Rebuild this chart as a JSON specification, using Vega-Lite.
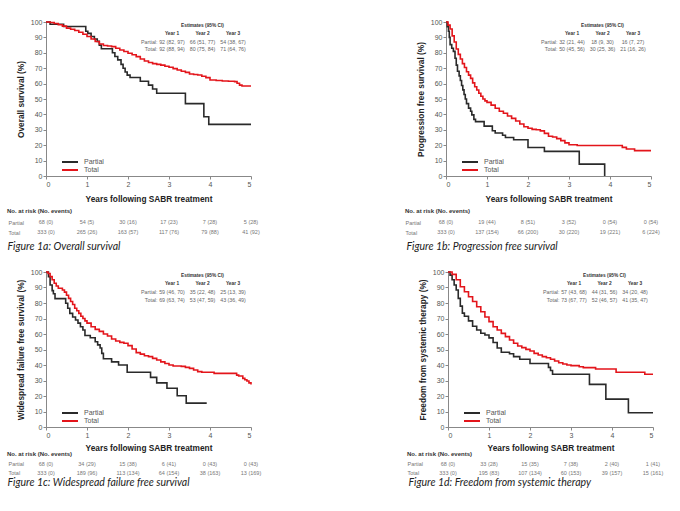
{
"$schema":"https://vega.github.io/schema/vega-lite/v6.json",
"background":"white",
"autosize":{"type":"pad"},
"padding":{"left":7,"top":18,"right":0,"bottom":0},
"datasets":{
"km":[
{"p":"a","g":"Partial","t":0,"s":100},{"p":"a","g":"Partial","t":0.1,"s":98.5},{"p":"a","g":"Partial","t":0.43,"s":97.1},{"p":"a","g":"Partial","t":0.97,"s":94},{"p":"a","g":"Partial","t":1.02,"s":92.6},{"p":"a","g":"Partial","t":1.1,"s":90.6},{"p":"a","g":"Partial","t":1.18,"s":89},{"p":"a","g":"Partial","t":1.25,"s":87.4},{"p":"a","g":"Partial","t":1.3,"s":85},{"p":"a","g":"Partial","t":1.35,"s":82.6},{"p":"a","g":"Partial","t":1.62,"s":80},{"p":"a","g":"Partial","t":1.68,"s":77.6},{"p":"a","g":"Partial","t":1.75,"s":75.4},{"p":"a","g":"Partial","t":1.83,"s":72.5},{"p":"a","g":"Partial","t":1.88,"s":70},{"p":"a","g":"Partial","t":1.93,"s":67.5},{"p":"a","g":"Partial","t":1.98,"s":65.5},{"p":"a","g":"Partial","t":2.05,"s":64},{"p":"a","g":"Partial","t":2.3,"s":61.5},{"p":"a","g":"Partial","t":2.5,"s":59},{"p":"a","g":"Partial","t":2.6,"s":56.5},{"p":"a","g":"Partial","t":2.7,"s":53.7},{"p":"a","g":"Partial","t":3.4,"s":47},{"p":"a","g":"Partial","t":3.85,"s":38.5},{"p":"a","g":"Partial","t":3.97,"s":33.5},{"p":"a","g":"Partial","t":5,"s":33.5},
{"p":"a","g":"Total","t":0,"s":100},{"p":"a","g":"Total","t":0.1,"s":99.7},{"p":"a","g":"Total","t":0.2,"s":99},{"p":"a","g":"Total","t":0.3,"s":98.2},{"p":"a","g":"Total","t":0.4,"s":97.3},{"p":"a","g":"Total","t":0.5,"s":96},{"p":"a","g":"Total","t":0.6,"s":95.3},{"p":"a","g":"Total","t":0.7,"s":94.5},{"p":"a","g":"Total","t":0.8,"s":93.3},{"p":"a","g":"Total","t":0.9,"s":92},{"p":"a","g":"Total","t":1.0,"s":90.6},{"p":"a","g":"Total","t":1.1,"s":89},{"p":"a","g":"Total","t":1.2,"s":87.3},{"p":"a","g":"Total","t":1.3,"s":85.7},{"p":"a","g":"Total","t":1.4,"s":84.7},{"p":"a","g":"Total","t":1.5,"s":84.4},{"p":"a","g":"Total","t":1.6,"s":84},{"p":"a","g":"Total","t":1.7,"s":83},{"p":"a","g":"Total","t":1.8,"s":81.8},{"p":"a","g":"Total","t":1.9,"s":80.8},{"p":"a","g":"Total","t":2.0,"s":79.7},{"p":"a","g":"Total","t":2.1,"s":78.7},{"p":"a","g":"Total","t":2.2,"s":77.5},{"p":"a","g":"Total","t":2.3,"s":76},{"p":"a","g":"Total","t":2.4,"s":74.7},{"p":"a","g":"Total","t":2.5,"s":73.7},{"p":"a","g":"Total","t":2.6,"s":73},{"p":"a","g":"Total","t":2.7,"s":72.5},{"p":"a","g":"Total","t":2.8,"s":72},{"p":"a","g":"Total","t":2.9,"s":71.3},{"p":"a","g":"Total","t":3.0,"s":70.6},{"p":"a","g":"Total","t":3.1,"s":69.7},{"p":"a","g":"Total","t":3.2,"s":68.8},{"p":"a","g":"Total","t":3.3,"s":68},{"p":"a","g":"Total","t":3.4,"s":67.3},{"p":"a","g":"Total","t":3.5,"s":66.2},{"p":"a","g":"Total","t":3.6,"s":65.9},{"p":"a","g":"Total","t":3.7,"s":65.6},{"p":"a","g":"Total","t":3.8,"s":64.8},{"p":"a","g":"Total","t":3.9,"s":63.9},{"p":"a","g":"Total","t":4.0,"s":62.3},{"p":"a","g":"Total","t":4.15,"s":62},{"p":"a","g":"Total","t":4.3,"s":61.7},{"p":"a","g":"Total","t":4.45,"s":61.5},{"p":"a","g":"Total","t":4.6,"s":61.3},{"p":"a","g":"Total","t":4.66,"s":60.2},{"p":"a","g":"Total","t":4.72,"s":59},{"p":"a","g":"Total","t":4.78,"s":58.4},{"p":"a","g":"Total","t":5,"s":58.4},
{"p":"b","g":"Partial","t":0,"s":100},{"p":"b","g":"Partial","t":0.03,"s":97},{"p":"b","g":"Partial","t":0.06,"s":94},{"p":"b","g":"Partial","t":0.08,"s":90},{"p":"b","g":"Partial","t":0.1,"s":85.3},{"p":"b","g":"Partial","t":0.14,"s":83},{"p":"b","g":"Partial","t":0.18,"s":80.9},{"p":"b","g":"Partial","t":0.22,"s":76.5},{"p":"b","g":"Partial","t":0.25,"s":72},{"p":"b","g":"Partial","t":0.28,"s":68},{"p":"b","g":"Partial","t":0.32,"s":65},{"p":"b","g":"Partial","t":0.35,"s":62},{"p":"b","g":"Partial","t":0.38,"s":58.8},{"p":"b","g":"Partial","t":0.41,"s":55.9},{"p":"b","g":"Partial","t":0.44,"s":52.9},{"p":"b","g":"Partial","t":0.47,"s":50},{"p":"b","g":"Partial","t":0.5,"s":47},{"p":"b","g":"Partial","t":0.55,"s":44.1},{"p":"b","g":"Partial","t":0.6,"s":42},{"p":"b","g":"Partial","t":0.63,"s":39.7},{"p":"b","g":"Partial","t":0.68,"s":36.8},{"p":"b","g":"Partial","t":0.72,"s":35.3},{"p":"b","g":"Partial","t":0.93,"s":32.4},{"p":"b","g":"Partial","t":1.13,"s":29.4},{"p":"b","g":"Partial","t":1.2,"s":27.9},{"p":"b","g":"Partial","t":1.38,"s":26.5},{"p":"b","g":"Partial","t":1.45,"s":25},{"p":"b","g":"Partial","t":1.65,"s":23.5},{"p":"b","g":"Partial","t":2.0,"s":18.5},{"p":"b","g":"Partial","t":2.4,"s":16},{"p":"b","g":"Partial","t":3.25,"s":7.7},{"p":"b","g":"Partial","t":3.87,"s":0},
{"p":"b","g":"Total","t":0,"s":100},{"p":"b","g":"Total","t":0.05,"s":98},{"p":"b","g":"Total","t":0.1,"s":95.5},{"p":"b","g":"Total","t":0.15,"s":91},{"p":"b","g":"Total","t":0.2,"s":87},{"p":"b","g":"Total","t":0.25,"s":82.5},{"p":"b","g":"Total","t":0.3,"s":79},{"p":"b","g":"Total","t":0.35,"s":76},{"p":"b","g":"Total","t":0.4,"s":73},{"p":"b","g":"Total","t":0.45,"s":70.5},{"p":"b","g":"Total","t":0.5,"s":67.7},{"p":"b","g":"Total","t":0.55,"s":65.5},{"p":"b","g":"Total","t":0.6,"s":63.4},{"p":"b","g":"Total","t":0.65,"s":60.5},{"p":"b","g":"Total","t":0.7,"s":58},{"p":"b","g":"Total","t":0.75,"s":55.8},{"p":"b","g":"Total","t":0.8,"s":53.7},{"p":"b","g":"Total","t":0.85,"s":51.8},{"p":"b","g":"Total","t":0.9,"s":50},{"p":"b","g":"Total","t":0.95,"s":48.8},{"p":"b","g":"Total","t":1.0,"s":47.8},{"p":"b","g":"Total","t":1.1,"s":46},{"p":"b","g":"Total","t":1.2,"s":44},{"p":"b","g":"Total","t":1.3,"s":42},{"p":"b","g":"Total","t":1.4,"s":40.7},{"p":"b","g":"Total","t":1.5,"s":39},{"p":"b","g":"Total","t":1.6,"s":37.4},{"p":"b","g":"Total","t":1.7,"s":35.7},{"p":"b","g":"Total","t":1.8,"s":33.8},{"p":"b","g":"Total","t":1.9,"s":32},{"p":"b","g":"Total","t":2.0,"s":31},{"p":"b","g":"Total","t":2.1,"s":30.3},{"p":"b","g":"Total","t":2.2,"s":30},{"p":"b","g":"Total","t":2.3,"s":29.3},{"p":"b","g":"Total","t":2.4,"s":27.7},{"p":"b","g":"Total","t":2.5,"s":25.8},{"p":"b","g":"Total","t":2.6,"s":25.3},{"p":"b","g":"Total","t":2.7,"s":24.3},{"p":"b","g":"Total","t":2.8,"s":23},{"p":"b","g":"Total","t":2.9,"s":21.5},{"p":"b","g":"Total","t":3.0,"s":20.3},{"p":"b","g":"Total","t":3.2,"s":19.8},{"p":"b","g":"Total","t":4.2,"s":19.8},{"p":"b","g":"Total","t":4.3,"s":18.6},{"p":"b","g":"Total","t":4.4,"s":17.5},{"p":"b","g":"Total","t":4.6,"s":16.5},{"p":"b","g":"Total","t":5,"s":16.5},
{"p":"c","g":"Partial","t":0,"s":100},{"p":"c","g":"Partial","t":0.06,"s":97},{"p":"c","g":"Partial","t":0.1,"s":91.6},{"p":"c","g":"Partial","t":0.15,"s":88},{"p":"c","g":"Partial","t":0.18,"s":86},{"p":"c","g":"Partial","t":0.22,"s":82.8},{"p":"c","g":"Partial","t":0.48,"s":79.8},{"p":"c","g":"Partial","t":0.53,"s":76.6},{"p":"c","g":"Partial","t":0.58,"s":73.3},{"p":"c","g":"Partial","t":0.65,"s":71},{"p":"c","g":"Partial","t":0.72,"s":69},{"p":"c","g":"Partial","t":0.78,"s":67},{"p":"c","g":"Partial","t":0.84,"s":64.7},{"p":"c","g":"Partial","t":0.9,"s":62.6},{"p":"c","g":"Partial","t":0.95,"s":59},{"p":"c","g":"Partial","t":1.08,"s":57.6},{"p":"c","g":"Partial","t":1.2,"s":55},{"p":"c","g":"Partial","t":1.26,"s":53},{"p":"c","g":"Partial","t":1.32,"s":51},{"p":"c","g":"Partial","t":1.36,"s":47.5},{"p":"c","g":"Partial","t":1.4,"s":44},{"p":"c","g":"Partial","t":1.6,"s":42},{"p":"c","g":"Partial","t":1.77,"s":40},{"p":"c","g":"Partial","t":1.98,"s":35.3},{"p":"c","g":"Partial","t":2.55,"s":32},{"p":"c","g":"Partial","t":2.7,"s":28.5},{"p":"c","g":"Partial","t":2.95,"s":25},{"p":"c","g":"Partial","t":3.2,"s":20.2},{"p":"c","g":"Partial","t":3.42,"s":15.4},{"p":"c","g":"Partial","t":3.92,"s":15.4},
{"p":"c","g":"Total","t":0,"s":100},{"p":"c","g":"Total","t":0.05,"s":99},{"p":"c","g":"Total","t":0.1,"s":97},{"p":"c","g":"Total","t":0.15,"s":95},{"p":"c","g":"Total","t":0.2,"s":92.7},{"p":"c","g":"Total","t":0.25,"s":91},{"p":"c","g":"Total","t":0.3,"s":89.5},{"p":"c","g":"Total","t":0.4,"s":88.4},{"p":"c","g":"Total","t":0.45,"s":87},{"p":"c","g":"Total","t":0.5,"s":85},{"p":"c","g":"Total","t":0.55,"s":83},{"p":"c","g":"Total","t":0.6,"s":81},{"p":"c","g":"Total","t":0.65,"s":79},{"p":"c","g":"Total","t":0.7,"s":76.6},{"p":"c","g":"Total","t":0.75,"s":75},{"p":"c","g":"Total","t":0.8,"s":73.3},{"p":"c","g":"Total","t":0.85,"s":71.5},{"p":"c","g":"Total","t":0.9,"s":70},{"p":"c","g":"Total","t":0.95,"s":68.5},{"p":"c","g":"Total","t":1.0,"s":67},{"p":"c","g":"Total","t":1.1,"s":64.7},{"p":"c","g":"Total","t":1.2,"s":63},{"p":"c","g":"Total","t":1.3,"s":61.7},{"p":"c","g":"Total","t":1.4,"s":60},{"p":"c","g":"Total","t":1.5,"s":58.7},{"p":"c","g":"Total","t":1.6,"s":56.8},{"p":"c","g":"Total","t":1.7,"s":55.5},{"p":"c","g":"Total","t":1.8,"s":54.6},{"p":"c","g":"Total","t":1.9,"s":54},{"p":"c","g":"Total","t":2.0,"s":52.5},{"p":"c","g":"Total","t":2.1,"s":50.3},{"p":"c","g":"Total","t":2.2,"s":48},{"p":"c","g":"Total","t":2.3,"s":47},{"p":"c","g":"Total","t":2.4,"s":46},{"p":"c","g":"Total","t":2.5,"s":45.4},{"p":"c","g":"Total","t":2.6,"s":44.3},{"p":"c","g":"Total","t":2.7,"s":43.2},{"p":"c","g":"Total","t":2.8,"s":42},{"p":"c","g":"Total","t":2.9,"s":41},{"p":"c","g":"Total","t":3.0,"s":40},{"p":"c","g":"Total","t":3.1,"s":39.4},{"p":"c","g":"Total","t":3.3,"s":39.1},{"p":"c","g":"Total","t":3.4,"s":38.5},{"p":"c","g":"Total","t":3.5,"s":37.8},{"p":"c","g":"Total","t":3.6,"s":36.8},{"p":"c","g":"Total","t":3.7,"s":35.7},{"p":"c","g":"Total","t":3.8,"s":35.3},{"p":"c","g":"Total","t":4.1,"s":34.6},{"p":"c","g":"Total","t":4.65,"s":33.5},{"p":"c","g":"Total","t":4.7,"s":32.9},{"p":"c","g":"Total","t":4.8,"s":31.4},{"p":"c","g":"Total","t":4.85,"s":30.5},{"p":"c","g":"Total","t":4.9,"s":29.7},{"p":"c","g":"Total","t":4.95,"s":28.5},{"p":"c","g":"Total","t":5,"s":27.5},
{"p":"d","g":"Partial","t":0,"s":100},{"p":"d","g":"Partial","t":0.05,"s":98},{"p":"d","g":"Partial","t":0.1,"s":95},{"p":"d","g":"Partial","t":0.15,"s":91.6},{"p":"d","g":"Partial","t":0.2,"s":88.4},{"p":"d","g":"Partial","t":0.25,"s":83},{"p":"d","g":"Partial","t":0.3,"s":78},{"p":"d","g":"Partial","t":0.35,"s":73.5},{"p":"d","g":"Partial","t":0.4,"s":71.5},{"p":"d","g":"Partial","t":0.5,"s":68.5},{"p":"d","g":"Partial","t":0.6,"s":65},{"p":"d","g":"Partial","t":0.7,"s":62.6},{"p":"d","g":"Partial","t":0.8,"s":60.5},{"p":"d","g":"Partial","t":0.9,"s":59.4},{"p":"d","g":"Partial","t":1.0,"s":57.5},{"p":"d","g":"Partial","t":1.1,"s":54.5},{"p":"d","g":"Partial","t":1.2,"s":51},{"p":"d","g":"Partial","t":1.3,"s":48.2},{"p":"d","g":"Partial","t":1.5,"s":47.3},{"p":"d","g":"Partial","t":1.6,"s":45.4},{"p":"d","g":"Partial","t":1.75,"s":43.7},{"p":"d","g":"Partial","t":2.0,"s":41},{"p":"d","g":"Partial","t":2.45,"s":38.5},{"p":"d","g":"Partial","t":2.5,"s":36.5},{"p":"d","g":"Partial","t":2.55,"s":34},{"p":"d","g":"Partial","t":3.45,"s":27.5},{"p":"d","g":"Partial","t":3.85,"s":18},{"p":"d","g":"Partial","t":4.4,"s":9.2},{"p":"d","g":"Partial","t":5,"s":9.2},
{"p":"d","g":"Total","t":0,"s":100},{"p":"d","g":"Total","t":0.1,"s":98.5},{"p":"d","g":"Total","t":0.2,"s":95},{"p":"d","g":"Total","t":0.3,"s":90.5},{"p":"d","g":"Total","t":0.4,"s":87.3},{"p":"d","g":"Total","t":0.5,"s":84},{"p":"d","g":"Total","t":0.6,"s":81},{"p":"d","g":"Total","t":0.7,"s":77.6},{"p":"d","g":"Total","t":0.8,"s":74.4},{"p":"d","g":"Total","t":0.9,"s":71},{"p":"d","g":"Total","t":1.0,"s":68},{"p":"d","g":"Total","t":1.1,"s":64.7},{"p":"d","g":"Total","t":1.2,"s":62.6},{"p":"d","g":"Total","t":1.3,"s":60.4},{"p":"d","g":"Total","t":1.4,"s":58.3},{"p":"d","g":"Total","t":1.5,"s":56.1},{"p":"d","g":"Total","t":1.6,"s":54},{"p":"d","g":"Total","t":1.7,"s":52.3},{"p":"d","g":"Total","t":1.8,"s":51.2},{"p":"d","g":"Total","t":1.9,"s":50.1},{"p":"d","g":"Total","t":2.0,"s":49},{"p":"d","g":"Total","t":2.1,"s":47.5},{"p":"d","g":"Total","t":2.2,"s":46.5},{"p":"d","g":"Total","t":2.3,"s":45.4},{"p":"d","g":"Total","t":2.4,"s":44.7},{"p":"d","g":"Total","t":2.5,"s":43.7},{"p":"d","g":"Total","t":2.6,"s":42.6},{"p":"d","g":"Total","t":2.7,"s":41.5},{"p":"d","g":"Total","t":2.8,"s":40.6},{"p":"d","g":"Total","t":2.9,"s":40},{"p":"d","g":"Total","t":3.0,"s":39.6},{"p":"d","g":"Total","t":3.2,"s":38.9},{"p":"d","g":"Total","t":3.3,"s":38.3},{"p":"d","g":"Total","t":3.6,"s":37.4},{"p":"d","g":"Total","t":4.1,"s":35.3},{"p":"d","g":"Total","t":4.8,"s":34},{"p":"d","g":"Total","t":5,"s":34}
],
"est":[
{"p":"all","k":"title","ri":0,"ci":2,"v":"Estimates (95% CI)"},
{"p":"all","k":"head","ri":1,"ci":1,"v":"Year 1"},{"p":"all","k":"head","ri":1,"ci":2,"v":"Year 2"},{"p":"all","k":"head","ri":1,"ci":3,"v":"Year 3"},
{"p":"all","k":"lab","ri":2,"ci":1,"v":"Partial:"},{"p":"all","k":"lab","ri":3,"ci":1,"v":"Total:"},
{"p":"a","k":"val","ri":2,"ci":1,"v":"92 (82, 97)"},{"p":"a","k":"val","ri":2,"ci":2,"v":"66 (51, 77)"},{"p":"a","k":"val","ri":2,"ci":3,"v":"54 (38, 67)"},
{"p":"a","k":"val","ri":3,"ci":1,"v":"92 (88, 94)"},{"p":"a","k":"val","ri":3,"ci":2,"v":"80 (75, 84)"},{"p":"a","k":"val","ri":3,"ci":3,"v":"71 (64, 76)"},
{"p":"b","k":"val","ri":2,"ci":1,"v":"32 (21, 44)"},{"p":"b","k":"val","ri":2,"ci":2,"v":"18 (9, 30)"},{"p":"b","k":"val","ri":2,"ci":3,"v":"16 (7, 27)"},
{"p":"b","k":"val","ri":3,"ci":1,"v":"50 (45, 56)"},{"p":"b","k":"val","ri":3,"ci":2,"v":"30 (25, 36)"},{"p":"b","k":"val","ri":3,"ci":3,"v":"21 (16, 26)"},
{"p":"c","k":"val","ri":2,"ci":1,"v":"59 (46, 70)"},{"p":"c","k":"val","ri":2,"ci":2,"v":"35 (22, 48)"},{"p":"c","k":"val","ri":2,"ci":3,"v":"25 (13, 39)"},
{"p":"c","k":"val","ri":3,"ci":1,"v":"69 (63, 74)"},{"p":"c","k":"val","ri":3,"ci":2,"v":"53 (47, 59)"},{"p":"c","k":"val","ri":3,"ci":3,"v":"43 (36, 49)"},
{"p":"d","k":"val","ri":2,"ci":1,"v":"57 (43, 68)"},{"p":"d","k":"val","ri":2,"ci":2,"v":"44 (31, 56)"},{"p":"d","k":"val","ri":2,"ci":3,"v":"34 (20, 48)"},
{"p":"d","k":"val","ri":3,"ci":1,"v":"73 (67, 77)"},{"p":"d","k":"val","ri":3,"ci":2,"v":"52 (46, 57)"},{"p":"d","k":"val","ri":3,"ci":3,"v":"41 (35, 47)"}
],
"risk":[
{"p":"a","g":"Partial","t":0,"v":"68 (0)"},{"p":"a","g":"Partial","t":1,"v":"54 (5)"},{"p":"a","g":"Partial","t":2,"v":"30 (16)"},{"p":"a","g":"Partial","t":3,"v":"17 (23)"},{"p":"a","g":"Partial","t":4,"v":"7 (28)"},{"p":"a","g":"Partial","t":5,"v":"5 (28)"},
{"p":"a","g":"Total","t":0,"v":"333 (0)"},{"p":"a","g":"Total","t":1,"v":"265 (26)"},{"p":"a","g":"Total","t":2,"v":"163 (57)"},{"p":"a","g":"Total","t":3,"v":"117 (76)"},{"p":"a","g":"Total","t":4,"v":"79 (88)"},{"p":"a","g":"Total","t":5,"v":"41 (92)"},
{"p":"b","g":"Partial","t":0,"v":"68 (0)"},{"p":"b","g":"Partial","t":1,"v":"19 (44)"},{"p":"b","g":"Partial","t":2,"v":"8 (51)"},{"p":"b","g":"Partial","t":3,"v":"3 (52)"},{"p":"b","g":"Partial","t":4,"v":"0 (54)"},{"p":"b","g":"Partial","t":5,"v":"0 (54)"},
{"p":"b","g":"Total","t":0,"v":"333 (0)"},{"p":"b","g":"Total","t":1,"v":"137 (154)"},{"p":"b","g":"Total","t":2,"v":"66 (200)"},{"p":"b","g":"Total","t":3,"v":"30 (220)"},{"p":"b","g":"Total","t":4,"v":"19 (221)"},{"p":"b","g":"Total","t":5,"v":"6 (224)"},
{"p":"c","g":"Partial","t":0,"v":"68 (0)"},{"p":"c","g":"Partial","t":1,"v":"34 (29)"},{"p":"c","g":"Partial","t":2,"v":"15 (38)"},{"p":"c","g":"Partial","t":3,"v":"6 (41)"},{"p":"c","g":"Partial","t":4,"v":"0 (43)"},{"p":"c","g":"Partial","t":5,"v":"0 (43)"},
{"p":"c","g":"Total","t":0,"v":"333 (0)"},{"p":"c","g":"Total","t":1,"v":"189 (96)"},{"p":"c","g":"Total","t":2,"v":"113 (134)"},{"p":"c","g":"Total","t":3,"v":"64 (154)"},{"p":"c","g":"Total","t":4,"v":"38 (163)"},{"p":"c","g":"Total","t":5,"v":"13 (169)"},
{"p":"d","g":"Partial","t":0,"v":"68 (0)"},{"p":"d","g":"Partial","t":1,"v":"33 (28)"},{"p":"d","g":"Partial","t":2,"v":"15 (35)"},{"p":"d","g":"Partial","t":3,"v":"7 (38)"},{"p":"d","g":"Partial","t":4,"v":"2 (40)"},{"p":"d","g":"Partial","t":5,"v":"1 (41)"},
{"p":"d","g":"Total","t":0,"v":"333 (0)"},{"p":"d","g":"Total","t":1,"v":"195 (83)"},{"p":"d","g":"Total","t":2,"v":"107 (134)"},{"p":"d","g":"Total","t":3,"v":"60 (153)"},{"p":"d","g":"Total","t":4,"v":"39 (157)"},{"p":"d","g":"Total","t":5,"v":"15 (161)"}
]
},
"spacing":16,
"resolve":{"scale":{"color":"independent"},"legend":{"color":"independent"}},
"vconcat":[
{"hconcat":[
{"vconcat":[
{"width":205,"height":154,
"layer":[
{"data":{"name":"km"},"transform":[{"filter":"datum.p=='a'"}],"mark":{"type":"line","interpolate":"step-after","strokeWidth":1.6},
"encoding":{"x":{"field":"t","type":"quantitative","scale":{"domain":[0,5]},"axis":{"values":[0,1,2,3,4,5],"title":"Years following SABR treatment","titlePadding":7}},
"y":{"field":"s","type":"quantitative","scale":{"domain":[0,100]},"axis":{"values":[0,10,20,30,40,50,60,70,80,90,100],"title":"Overall survival (%)","titlePadding":5}},
"color":{"field":"g","type":"nominal","scale":{"domain":["Partial","Total"],"range":["#2a2a2a","#e3151b"]},"legend":{"orient":"none","legendX":15,"legendY":136,"title":null}}}},
{"data":{"name":"est"},"transform":[{"filter":"datum.k=='title' || datum.k=='head'"}],"mark":{"type":"text","fontSize":4.8,"fontWeight":"bold","color":"#333"},
"encoding":{"x":{"field":"ci","type":"quantitative","scale":{"domain":[-3.13,3.59],"nice":false,"zero":false},"axis":null},"y":{"field":"ri","type":"quantitative","scale":{"domain":[-0.51,19.2],"reverse":true,"nice":false,"zero":false},"axis":null},"text":{"field":"v"}}},
{"data":{"name":"est"},"transform":[{"filter":"datum.k=='lab'"}],"mark":{"type":"text","fontSize":5.3,"color":"#666","align":"right","dx":-14.5},
"encoding":{"x":{"field":"ci","type":"quantitative","scale":{"domain":[-3.13,3.59],"nice":false,"zero":false},"axis":null},"y":{"field":"ri","type":"quantitative","scale":{"domain":[-0.51,19.2],"reverse":true,"nice":false,"zero":false},"axis":null},"text":{"field":"v"}}},
{"data":{"name":"est"},"transform":[{"filter":"datum.k=='val' && datum.p=='a'"}],"mark":{"type":"text","fontSize":5.3,"color":"#666"},
"encoding":{"x":{"field":"ci","type":"quantitative","scale":{"domain":[-3.13,3.59],"nice":false,"zero":false},"axis":null},"y":{"field":"ri","type":"quantitative","scale":{"domain":[-0.51,19.2],"reverse":true,"nice":false,"zero":false},"axis":null},"text":{"field":"v"}}}
],
"resolve":{"scale":{"x":"independent","y":"independent"}}},
{"width":205,"height":20,"data":{"name":"risk"},"transform":[{"filter":"datum.p=='a'"}],
"title":{"text":"No. at risk (No. events)","anchor":"start","frame":"bounds","fontSize":6,"fontWeight":"bold","font":"Liberation Sans","color":"#333","offset":3},
"mark":{"type":"text","fontSize":5.5,"color":"#777","font":"Liberation Sans"},
"encoding":{"x":{"field":"t","type":"quantitative","scale":{"domain":[0,5]},"axis":{"domain":false,"ticks":false,"labels":false,"title":"Figure 1a: Overall survival","titleAnchor":"start","titleAlign":"left","titleX":-39,"titlePadding":4,"titleFont":"Lato","titleFontStyle":"italic","titleFontWeight":"normal","titleFontSize":10.5,"titleColor":"#222"}},
"y":{"field":"g","type":"nominal","scale":{"type":"point","domain":["Partial","Total"],"padding":0.5},"axis":{"domain":false,"ticks":false,"title":null,"labelAlign":"left","labelPadding":38,"labelFontSize":5.5,"labelColor":"#777"}},
"text":{"field":"v"}}}
],"spacing":5,"resolve":{"scale":{"color":"independent"},"legend":{"color":"independent"}}},
{"vconcat":[
{"width":205,"height":154,
"layer":[
{"data":{"name":"km"},"transform":[{"filter":"datum.p=='b'"}],"mark":{"type":"line","interpolate":"step-after","strokeWidth":1.6},
"encoding":{"x":{"field":"t","type":"quantitative","scale":{"domain":[0,5]},"axis":{"values":[0,1,2,3,4,5],"title":"Years following SABR treatment","titlePadding":7}},
"y":{"field":"s","type":"quantitative","scale":{"domain":[0,100]},"axis":{"values":[0,10,20,30,40,50,60,70,80,90,100],"title":"Progression free survival (%)","titlePadding":5}},
"color":{"field":"g","type":"nominal","scale":{"domain":["Partial","Total"],"range":["#2a2a2a","#e3151b"]},"legend":{"orient":"none","legendX":15,"legendY":136,"title":null}}}},
{"data":{"name":"est"},"transform":[{"filter":"datum.k=='title' || datum.k=='head'"}],"mark":{"type":"text","fontSize":4.8,"fontWeight":"bold","color":"#333"},
"encoding":{"x":{"field":"ci","type":"quantitative","scale":{"domain":[-3.13,3.59],"nice":false,"zero":false},"axis":null},"y":{"field":"ri","type":"quantitative","scale":{"domain":[-0.51,19.2],"reverse":true,"nice":false,"zero":false},"axis":null},"text":{"field":"v"}}},
{"data":{"name":"est"},"transform":[{"filter":"datum.k=='lab'"}],"mark":{"type":"text","fontSize":5.3,"color":"#666","align":"right","dx":-14.5},
"encoding":{"x":{"field":"ci","type":"quantitative","scale":{"domain":[-3.13,3.59],"nice":false,"zero":false},"axis":null},"y":{"field":"ri","type":"quantitative","scale":{"domain":[-0.51,19.2],"reverse":true,"nice":false,"zero":false},"axis":null},"text":{"field":"v"}}},
{"data":{"name":"est"},"transform":[{"filter":"datum.k=='val' && datum.p=='b'"}],"mark":{"type":"text","fontSize":5.3,"color":"#666"},
"encoding":{"x":{"field":"ci","type":"quantitative","scale":{"domain":[-3.13,3.59],"nice":false,"zero":false},"axis":null},"y":{"field":"ri","type":"quantitative","scale":{"domain":[-0.51,19.2],"reverse":true,"nice":false,"zero":false},"axis":null},"text":{"field":"v"}}}
],
"resolve":{"scale":{"x":"independent","y":"independent"}}},
{"width":205,"height":20,"data":{"name":"risk"},"transform":[{"filter":"datum.p=='b'"}],
"title":{"text":"No. at risk (No. events)","anchor":"start","frame":"bounds","fontSize":6,"fontWeight":"bold","font":"Liberation Sans","color":"#333","offset":3},
"mark":{"type":"text","fontSize":5.5,"color":"#777","font":"Liberation Sans"},
"encoding":{"x":{"field":"t","type":"quantitative","scale":{"domain":[0,5]},"axis":{"domain":false,"ticks":false,"labels":false,"title":"Figure 1b: Progression free survival","titleAnchor":"start","titleAlign":"left","titleX":-40,"titlePadding":4,"titleFont":"Lato","titleFontStyle":"italic","titleFontWeight":"normal","titleFontSize":10.5,"titleColor":"#222"}},
"y":{"field":"g","type":"nominal","scale":{"type":"point","domain":["Partial","Total"],"padding":0.5},"axis":{"domain":false,"ticks":false,"title":null,"labelAlign":"left","labelPadding":41,"labelFontSize":5.5,"labelColor":"#777"}},
"text":{"field":"v"}}}
],"spacing":5,"resolve":{"scale":{"color":"independent"},"legend":{"color":"independent"}}}
],"spacing":145,"resolve":{"scale":{"color":"independent"},"legend":{"color":"independent"}}},
{"hconcat":[
{"vconcat":[
{"width":205,"height":155,
"layer":[
{"data":{"name":"km"},"transform":[{"filter":"datum.p=='c'"}],"mark":{"type":"line","interpolate":"step-after","strokeWidth":1.6},
"encoding":{"x":{"field":"t","type":"quantitative","scale":{"domain":[0,5]},"axis":{"values":[0,1,2,3,4,5],"title":"Years following SABR treatment","titlePadding":5}},
"y":{"field":"s","type":"quantitative","scale":{"domain":[0,100]},"axis":{"values":[0,10,20,30,40,50,60,70,80,90,100],"title":"Widespread failure free survival (%)","titlePadding":5}},
"color":{"field":"g","type":"nominal","scale":{"domain":["Partial","Total"],"range":["#2a2a2a","#e3151b"]},"legend":{"orient":"none","legendX":15,"legendY":137,"title":null}}}},
{"data":{"name":"est"},"transform":[{"filter":"datum.k=='title' || datum.k=='head'"}],"mark":{"type":"text","fontSize":4.8,"fontWeight":"bold","color":"#333"},
"encoding":{"x":{"field":"ci","type":"quantitative","scale":{"domain":[-3.13,3.59],"nice":false,"zero":false},"axis":null},"y":{"field":"ri","type":"quantitative","scale":{"domain":[-0.51,19.2],"reverse":true,"nice":false,"zero":false},"axis":null},"text":{"field":"v"}}},
{"data":{"name":"est"},"transform":[{"filter":"datum.k=='lab'"}],"mark":{"type":"text","fontSize":5.3,"color":"#666","align":"right","dx":-14.5},
"encoding":{"x":{"field":"ci","type":"quantitative","scale":{"domain":[-3.13,3.59],"nice":false,"zero":false},"axis":null},"y":{"field":"ri","type":"quantitative","scale":{"domain":[-0.51,19.2],"reverse":true,"nice":false,"zero":false},"axis":null},"text":{"field":"v"}}},
{"data":{"name":"est"},"transform":[{"filter":"datum.k=='val' && datum.p=='c'"}],"mark":{"type":"text","fontSize":5.3,"color":"#666"},
"encoding":{"x":{"field":"ci","type":"quantitative","scale":{"domain":[-3.13,3.59],"nice":false,"zero":false},"axis":null},"y":{"field":"ri","type":"quantitative","scale":{"domain":[-0.51,19.2],"reverse":true,"nice":false,"zero":false},"axis":null},"text":{"field":"v"}}}
],
"resolve":{"scale":{"x":"independent","y":"independent"}}},
{"width":205,"height":18,"data":{"name":"risk"},"transform":[{"filter":"datum.p=='c'"}],
"title":{"text":"No. at risk (No. events)","anchor":"start","frame":"bounds","fontSize":6,"fontWeight":"bold","font":"Liberation Sans","color":"#333","offset":2},
"mark":{"type":"text","fontSize":5.5,"color":"#777","font":"Liberation Sans"},
"encoding":{"x":{"field":"t","type":"quantitative","scale":{"domain":[0,5]},"axis":{"domain":false,"ticks":false,"labels":false,"title":"Figure 1c: Widespread failure free survival","titleAnchor":"start","titleAlign":"left","titleX":-39,"titlePadding":0,"titleFont":"Lato","titleFontStyle":"italic","titleFontWeight":"normal","titleFontSize":10.5,"titleColor":"#222"}},
"y":{"field":"g","type":"nominal","scale":{"type":"point","domain":["Partial","Total"],"padding":0.5},"axis":{"domain":false,"ticks":false,"title":null,"labelAlign":"left","labelPadding":38,"labelFontSize":5.5,"labelColor":"#777"}},
"text":{"field":"v"}}}
],"spacing":-1,"resolve":{"scale":{"color":"independent"},"legend":{"color":"independent"}}},
{"vconcat":[
{"width":205,"height":155,
"layer":[
{"data":{"name":"km"},"transform":[{"filter":"datum.p=='d'"}],"mark":{"type":"line","interpolate":"step-after","strokeWidth":1.6},
"encoding":{"x":{"field":"t","type":"quantitative","scale":{"domain":[0,5]},"axis":{"values":[0,1,2,3,4,5],"title":"Years following SABR treatment","titlePadding":5}},
"y":{"field":"s","type":"quantitative","scale":{"domain":[0,100]},"axis":{"values":[0,10,20,30,40,50,60,70,80,90,100],"title":"Freedom from systemic therapy (%)","titlePadding":5}},
"color":{"field":"g","type":"nominal","scale":{"domain":["Partial","Total"],"range":["#2a2a2a","#e3151b"]},"legend":{"orient":"none","legendX":15,"legendY":137,"title":null}}}},
{"data":{"name":"est"},"transform":[{"filter":"datum.k=='title' || datum.k=='head'"}],"mark":{"type":"text","fontSize":4.8,"fontWeight":"bold","color":"#333"},
"encoding":{"x":{"field":"ci","type":"quantitative","scale":{"domain":[-3.13,3.59],"nice":false,"zero":false},"axis":null},"y":{"field":"ri","type":"quantitative","scale":{"domain":[-0.51,19.2],"reverse":true,"nice":false,"zero":false},"axis":null},"text":{"field":"v"}}},
{"data":{"name":"est"},"transform":[{"filter":"datum.k=='lab'"}],"mark":{"type":"text","fontSize":5.3,"color":"#666","align":"right","dx":-14.5},
"encoding":{"x":{"field":"ci","type":"quantitative","scale":{"domain":[-3.13,3.59],"nice":false,"zero":false},"axis":null},"y":{"field":"ri","type":"quantitative","scale":{"domain":[-0.51,19.2],"reverse":true,"nice":false,"zero":false},"axis":null},"text":{"field":"v"}}},
{"data":{"name":"est"},"transform":[{"filter":"datum.k=='val' && datum.p=='d'"}],"mark":{"type":"text","fontSize":5.3,"color":"#666"},
"encoding":{"x":{"field":"ci","type":"quantitative","scale":{"domain":[-3.13,3.59],"nice":false,"zero":false},"axis":null},"y":{"field":"ri","type":"quantitative","scale":{"domain":[-0.51,19.2],"reverse":true,"nice":false,"zero":false},"axis":null},"text":{"field":"v"}}}
],
"resolve":{"scale":{"x":"independent","y":"independent"}}},
{"width":205,"height":18,"data":{"name":"risk"},"transform":[{"filter":"datum.p=='d'"}],
"title":{"text":"No. at risk (No. events)","anchor":"start","frame":"bounds","fontSize":6,"fontWeight":"bold","font":"Liberation Sans","color":"#333","offset":2},
"mark":{"type":"text","fontSize":5.5,"color":"#777","font":"Liberation Sans"},
"encoding":{"x":{"field":"t","type":"quantitative","scale":{"domain":[0,5]},"axis":{"domain":false,"ticks":false,"labels":false,"title":"Figure 1d: Freedom from systemic therapy","titleAnchor":"start","titleAlign":"left","titleX":-40,"titlePadding":0,"titleFont":"Lato","titleFontStyle":"italic","titleFontWeight":"normal","titleFontSize":10.5,"titleColor":"#222"}},
"y":{"field":"g","type":"nominal","scale":{"type":"point","domain":["Partial","Total"],"padding":0.5},"axis":{"domain":false,"ticks":false,"title":null,"labelAlign":"left","labelPadding":41,"labelFontSize":5.5,"labelColor":"#777"}},
"text":{"field":"v"}}}
],"spacing":-1,"resolve":{"scale":{"color":"independent"},"legend":{"color":"independent"}}}
],"spacing":145,"resolve":{"scale":{"color":"independent"},"legend":{"color":"independent"}}}
],
"config":{
"view":{"stroke":null},
"font":"Liberation Sans",
"text":{"font":"Liberation Sans"},
"axis":{"grid":false,"labelFont":"Liberation Sans","labelFontSize":7,"labelColor":"#555","labelPadding":1,"tickSize":3,"tickColor":"#888","domainColor":"#888","titleFont":"Liberation Sans","titleFontSize":8.3,"titleFontWeight":"bold","titleColor":"#222"},
"legend":{"symbolType":"stroke","symbolSize":256,"symbolStrokeWidth":2,"labelFontSize":7,"labelColor":"#555","labelFont":"Liberation Sans","rowPadding":0,"clipHeight":8,"padding":0,"labelOffset":5}
}
}
